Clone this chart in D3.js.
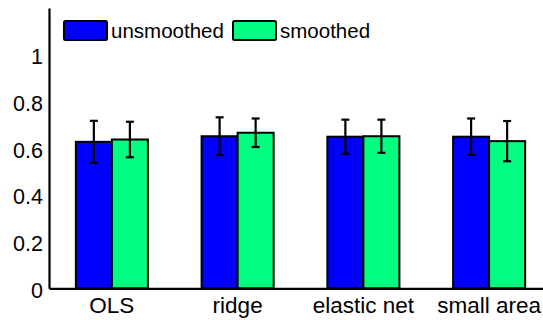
<html><head>
<script src="https://d3js.org/d3.v7.min.js"></script>
<style>
  body { margin: 0; background: #fff; }
  text { font-family: "Liberation Sans", Arial, sans-serif; fill: #000; }
</style>
</head>
<body>
<svg id="chart" width="543" height="320"></svg>
<script>
    // values
    const methods = ["OLS", "ridge", "elastic net", "small area"];
    const seriesNames = ["unsmoothed", "smoothed"];
    const unsmoothed = [0.627, 0.651, 0.649, 0.649];
    const unsmoothedErr = [0.090, 0.081, 0.073, 0.078];
    const smoothed = [0.637, 0.666, 0.651, 0.630];
    const smoothedErr = [0.076, 0.061, 0.071, 0.086];
    const yTicks = [0, 0.2, 0.4, 0.6, 0.8, 1];
    const colors = ["#0000ff", "#00ff80"];

    let svg = d3.select("svg#chart");
    let margin = {"top": 8, "left": 49};
    let plotRight = 552;   // axes run past the window edge
    let y0 = 288.3;

    let xScale = d3.scaleBand().domain(methods)
        .range([margin.left, plotRight])
        .paddingInner(0.427).paddingOuter(0.2135);
    let xSub = d3.scaleBand().domain(seriesNames).range([0, xScale.bandwidth()]);
    let yScale = d3.scaleLinear().domain([0, 1.2]).range([y0, margin.top]);

    let rows = [];
    methods.forEach((m, i) => {
        rows.push({method: m, series: "unsmoothed", v: unsmoothed[i], e: unsmoothedErr[i], c: colors[0]});
        rows.push({method: m, series: "smoothed", v: smoothed[i], e: smoothedErr[i], c: colors[1]});
    });

    // bars
    svg.append("g").selectAll("rect")
        .data(rows).enter().append("rect")
        .attr("x", d => xScale(d.method) + xSub(d.series))
        .attr("y", d => yScale(d.v))
        .attr("width", xSub.bandwidth())
        .attr("height", d => y0 - yScale(d.v))
        .attr("fill", d => d.c)
        .attr("stroke", "#000")
        .attr("stroke-width", 2);

    // error bars
    let err = svg.append("g").attr("stroke", "#000").attr("stroke-width", 2.2);
    rows.forEach(d => {
        let cx = xScale(d.method) + xSub(d.series) + xSub.bandwidth() / 2;
        let top = yScale(d.v + d.e), bot = yScale(d.v - d.e);
        err.append("line").attr("x1", cx).attr("x2", cx).attr("y1", top).attr("y2", bot);
        err.append("line").attr("x1", cx - 4).attr("x2", cx + 4).attr("y1", top).attr("y2", top);
        err.append("line").attr("x1", cx - 4).attr("x2", cx + 4).attr("y1", bot).attr("y2", bot);
    });

    // axes
    let yAxis = d3.axisLeft(yScale).tickValues(yTicks).tickSize(0).tickPadding(6)
        .tickFormat(d => d3.format("")(d));
    let gy = svg.append("g").attr("transform", "translate(" + margin.left + ",0)").call(yAxis);
    gy.select(".domain").attr("stroke", "#000").attr("stroke-width", 2.2);
    gy.selectAll("text").style("font-size", "21.5px").attr("dy", "0.42em");

    let xAxis = d3.axisBottom(xScale).tickSize(0).tickPadding(9);
    let gx = svg.append("g").attr("transform", "translate(0," + y0 + ")").call(xAxis);
    gx.select(".domain").attr("stroke", "#000").attr("stroke-width", 2.2);
    gx.selectAll("text").style("font-size", "22.5px").attr("dy", "0.72em");

    // legend
    let legend = svg.append("g");
    let legX = [64, 233];
    seriesNames.forEach((s, i) => {
        legend.append("rect").attr("x", legX[i]).attr("y", 21)
            .attr("width", 43).attr("height", 19).attr("rx", 1.5)
            .attr("fill", colors[i]).attr("stroke", "#000").attr("stroke-width", 2);
        legend.append("text").attr("x", legX[i] + 47).attr("y", 38)
            .style("font-size", "20.5px").text(s);
    });
</script>
</body>
</html>
